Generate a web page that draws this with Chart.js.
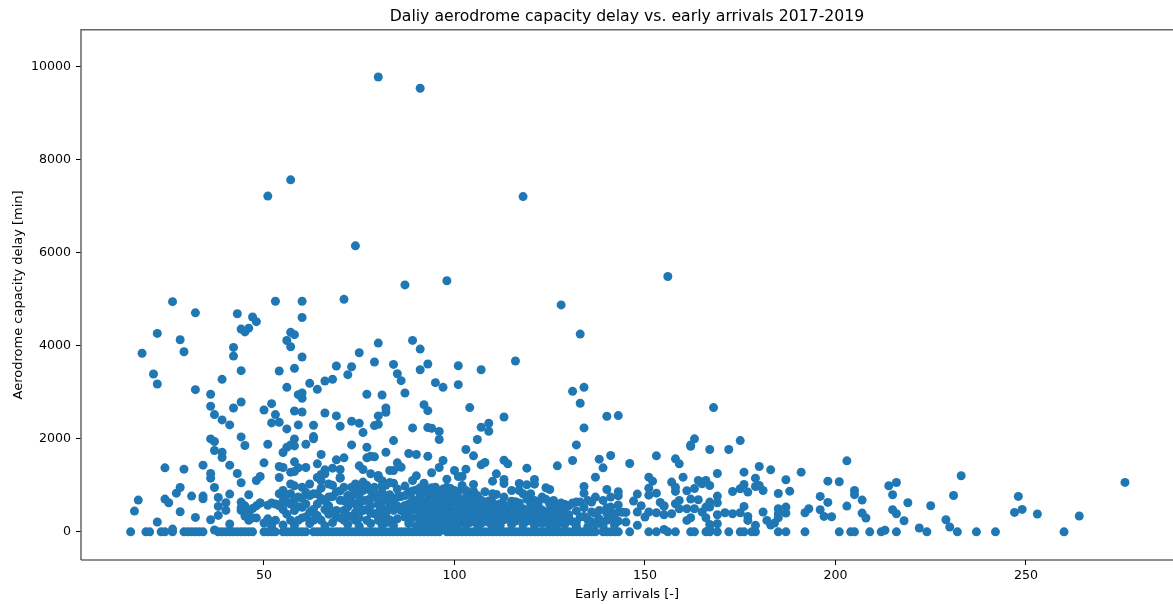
<!DOCTYPE html>
<html>
<head>
<meta charset="utf-8">
<title>Daliy aerodrome capacity delay vs. early arrivals 2017-2019</title>
<script src="https://cdn.jsdelivr.net/npm/chart.js@4"></script>
<style>
    html, body { margin: 0; padding: 0; background: #fff; overflow: hidden; }
    canvas { display: block; }
</style>
</head>
<body>
<canvas id="chart" width="1173" height="604"></canvas>
<script>
// Values: [early arrivals, capacity delay in min]
const chartTitle = 'Daliy aerodrome capacity delay vs. early arrivals 2017-2019';
const xLabel = 'Early arrivals [-]';
const yLabel = 'Aerodrome capacity delay [min]';
const xTicks = [50, 100, 150, 200, 250];
const yTicks = [0, 2000, 4000, 6000, 8000, 10000];

// days with no delay at all, only the arrivals count differs
const zeroDelayArrivals = [15, 19, 20, 23, 24, 26, 29, 30, 31, 32, 33, 34, 38, 39, 40, 41, 42, 43, 44, 45, 46, 47,
    50, 51, 52, 53, 55, 56, 57, 58, 59, 60, 61, 63, 64, 65, 66, 67, 68, 69, 70, 71, 72, 73, 74, 75, 76, 77, 78, 79,
    80, 81, 82, 83, 84, 85, 86, 87, 88, 89, 90, 91, 92, 93, 94, 95, 96, 98, 99, 100, 101, 102, 103, 104, 105, 106,
    107, 108, 109, 110, 111, 112, 113, 114, 115, 116, 117, 118, 119, 120, 121, 122, 123, 124, 125, 126, 127, 128,
    129, 130, 131, 132, 133, 134, 135, 136, 137, 139, 140, 141, 142, 143, 146, 151, 153, 156, 158, 162, 163, 166,
    167, 169, 172, 175, 176, 178, 179, 185, 187, 192, 201, 204, 205, 209, 212, 216, 224, 232, 237, 242, 260];

const pointsUnder50 = [[37, 40], [26, 60], [22, 4267], [28, 4130], [18, 3840], [29, 3873], [42, 3966], [42, 3780],
    [21, 3394], [22, 3180], [44, 3466], [39, 3280], [32, 3058], [36, 2958], [36, 2700], [44, 2793], [42, 2664],
    [37, 2521], [39, 2407], [41, 2300], [44, 2042], [36, 1999], [37, 1942], [45, 1856], [37, 1749], [39, 1713],
    [39, 1599], [41, 1434], [24, 1377], [29, 1348], [34, 1434], [36, 1255], [36, 1155], [43, 1255], [44, 1055],
    [37, 955], [28, 955], [27, 833], [31, 769], [34, 769], [34, 712], [38, 740], [41, 812], [24, 704], [25, 626],
    [17, 683], [16, 447], [28, 433], [32, 311], [22, 211], [36, 261], [44, 640], [40, 626], [40, 462], [38, 547],
    [38, 354], [44, 462], [41, 168], [46, 798], [48, 1105], [49, 1191], [26, 4950], [32, 4710], [43, 4690],
    [47, 4620], [48, 4520], [44, 4360], [45, 4300], [46, 4380], [44, 520], [45, 560], [46, 420], [47, 300],
    [45, 340], [47, 500], [48, 560], [49, 620], [48, 300], [46, 250]];

const points50to80 = [[51, 7220], [57, 7570], [74, 6150], [71, 5000], [53, 4960], [60, 4960], [60, 4610], [57, 4290],
    [58, 4240], [56, 4116], [57, 3980], [60, 3759], [69, 3566], [73, 3551], [75, 3852], [79, 3652], [80, 4059],
    [54, 3458], [58, 3516], [62, 3194], [66, 3244], [68, 3280], [72, 3380], [64, 3065], [56, 3108], [59, 2950],
    [60, 2986], [60, 2872], [77, 2958], [52, 2757], [50, 2621], [53, 2521], [58, 2600], [60, 2578], [66, 2557],
    [69, 2493], [52, 2343], [54, 2357], [56, 2214], [59, 2300], [63, 2292], [70, 2271], [73, 2378], [75, 2335],
    [76, 2135], [80, 2493], [79, 2285], [63, 2049], [63, 2000], [58, 1999], [57, 1870], [56, 1820], [55, 1706],
    [58, 1849], [61, 1885], [73, 1870], [77, 1820], [65, 1663], [77, 1592], [78, 1627], [79, 1613], [69, 1549],
    [71, 1592], [58, 1506], [64, 1463], [70, 1341], [68, 1370], [54, 1406], [55, 1384], [59, 1377], [61, 1384],
    [57, 1284], [58, 1298], [54, 1170], [75, 1420], [76, 1341], [66, 1334], [65, 1234], [70, 1155], [50, 1484],
    [51, 1885], [49, 620], [51, 570], [50, 190], [51, 280], [53, 250], [53, 600], [54, 820], [55, 890], [57, 1030],
    [58, 990], [55, 670], [57, 600], [59, 750], [60, 960], [62, 1030], [61, 850], [63, 820], [60, 530], [58, 460],
    [57, 250], [59, 250], [61, 320], [63, 250], [65, 250], [64, 600], [66, 670], [67, 750], [65, 1100], [66, 1250],
    [64, 1170], [67, 1030], [68, 1000], [70, 1170], [71, 960], [71, 670], [71, 460], [71, 250], [69, 460], [69, 320],
    [74, 1030], [74, 820], [74, 600], [74, 420], [74, 250], [76, 1070], [76, 890], [76, 670], [76, 460], [77, 250],
    [78, 1250], [79, 960], [79, 750], [80, 600], [79, 390], [80, 250], [80, 1170], [52, 620], [54, 560], [55, 480],
    [56, 640], [56, 800], [57, 820], [58, 700], [59, 540], [60, 720], [61, 600], [62, 780], [63, 480], [64, 820],
    [65, 940], [66, 480], [67, 380], [68, 760], [69, 860], [70, 680], [72, 780], [72, 540], [73, 960], [73, 640],
    [75, 540], [75, 920], [75, 760], [77, 1000], [77, 480], [78, 720], [78, 400], [62, 180], [66, 130], [68, 200],
    [72, 160], [73, 330], [75, 120], [78, 180], [55, 150], [52, 130]];

const points80to110 = [[80, 9780], [91, 9540], [98, 5400], [87, 5310], [89, 4117], [91, 3930], [84, 3601], [93, 3609],
    [91, 3487], [101, 3573], [107, 3487], [85, 3401], [86, 3251], [95, 3208], [97, 3108], [101, 3165], [81, 2943],
    [87, 2986], [92, 2736], [93, 2607], [104, 2672], [82, 2664], [82, 2571], [80, 2314], [89, 2235], [93, 2242],
    [94, 2228], [96, 2157], [96, 1985], [107, 2250], [109, 2335], [109, 2164], [106, 1985], [84, 1963], [103, 1770],
    [82, 1713], [88, 1684], [90, 1663], [93, 1627], [105, 1634], [97, 1534], [96, 1384], [94, 1270], [90, 1205],
    [107, 1441], [108, 1491], [100, 1320], [103, 1348], [101, 1191], [102, 1191], [83, 1320], [84, 1320], [85, 1484],
    [86, 1390], [80, 1213], [84, 1048], [82, 1030], [87, 984], [85, 748], [84, 675], [84, 462], [87, 568], [83, 210],
    [85, 280], [89, 1105], [92, 1048], [95, 962], [98, 1134], [98, 962], [100, 890], [102, 998], [103, 890], [105, 1020],
    [105, 876], [108, 862], [109, 662], [103, 568], [107, 512], [105, 426], [106, 426], [81, 1100], [81, 850], [81, 650],
    [81, 500], [81, 300], [81, 150], [82, 1000], [82, 700], [82, 400], [82, 200], [83, 1060], [83, 800], [83, 560],
    [83, 260], [88, 850], [88, 600], [88, 420], [88, 180], [89, 700], [89, 300], [90, 900], [90, 640], [90, 470],
    [90, 130], [91, 780], [91, 520], [91, 260], [92, 860], [92, 620], [92, 350], [92, 120], [93, 920], [93, 700],
    [93, 450], [93, 230], [94, 800], [94, 540], [94, 300], [95, 650], [95, 420], [95, 150], [96, 880], [96, 700],
    [96, 500], [96, 260], [97, 780], [97, 560], [97, 330], [97, 110], [98, 720], [98, 450], [98, 200], [99, 800],
    [99, 600], [99, 380], [99, 140], [100, 660], [100, 300], [101, 720], [101, 480], [101, 170], [102, 560], [102, 260],
    [103, 350], [103, 130], [104, 760], [104, 420], [104, 200], [105, 260], [106, 620], [106, 150], [107, 330], [107, 180],
    [108, 640], [108, 280], [109, 480], [109, 200]];

const points110to155 = [[118, 7210], [128, 4880], [133, 4252], [116, 3673], [131, 3022], [134, 3108], [133, 2765],
    [140, 2486], [143, 2500], [113, 2471], [134, 2235], [132, 1870], [113, 1541], [114, 1463], [119, 1370], [127, 1420],
    [131, 1534], [138, 1563], [141, 1642], [139, 1377], [137, 1177], [146, 1470], [153, 1634], [151, 1177], [152, 1091],
    [151, 940], [153, 833], [151, 790], [111, 1248], [110, 1091], [113, 1126], [113, 1041], [117, 1041], [117, 890],
    [121, 1126], [121, 1026], [119, 1012], [115, 890], [124, 948], [125, 912], [134, 976], [134, 833], [140, 912],
    [143, 862], [143, 776], [148, 812], [147, 662], [149, 561], [137, 748], [135, 676], [132, 640], [129, 590], [139, 676],
    [141, 748], [141, 533], [154, 633], [155, 561], [151, 426], [153, 411], [150, 318], [155, 368], [145, 418], [143, 426],
    [148, 426], [148, 140], [155, 50], [111, 805], [113, 748], [115, 660], [116, 648], [112, 604], [112, 500], [116, 426],
    [118, 498], [118, 282], [114, 282], [120, 820], [121, 676], [123, 748], [126, 676], [122, 533], [125, 462], [120, 354],
    [127, 533], [124, 318], [126, 250], [128, 318], [122, 210], [130, 368], [133, 318], [132, 210], [136, 426], [138, 462],
    [140, 250], [142, 210], [110, 820], [110, 320], [110, 120], [111, 540], [111, 240], [112, 300], [112, 140], [113, 420],
    [115, 340], [115, 160], [116, 230], [117, 620], [117, 350], [118, 820], [118, 150], [119, 700], [119, 420], [119, 230],
    [120, 580], [120, 240], [121, 400], [121, 140], [122, 620], [122, 320], [123, 470], [123, 180], [124, 700], [124, 240],
    [125, 600], [125, 300], [125, 130], [126, 450], [127, 320], [127, 150], [128, 620], [128, 240], [129, 420], [129, 170],
    [130, 560], [130, 280], [131, 620], [131, 220], [132, 450], [132, 120], [133, 640], [134, 520], [134, 330], [135, 260],
    [135, 110], [136, 640], [136, 220], [137, 400], [137, 170], [138, 280], [139, 120], [140, 520], [140, 400], [141, 350],
    [142, 380], [142, 150], [143, 580], [143, 230], [144, 420], [145, 210]];

const pointsOver155 = [[156, 5490], [168, 2672], [163, 2000], [162, 1842], [162, 1870], [167, 1770], [172, 1770],
    [175, 1963], [158, 1570], [159, 1463], [180, 1405], [183, 1334], [176, 1284], [169, 1255], [191, 1284], [203, 1527],
    [160, 1177], [179, 1155], [187, 1120], [198, 1091], [201, 1077], [157, 1070], [158, 962], [158, 870], [164, 1105],
    [166, 1105], [165, 1033], [167, 998], [163, 933], [161, 883], [176, 1019], [175, 926], [173, 869], [177, 855], [179, 976],
    [180, 998], [181, 890], [188, 876], [185, 826], [205, 890], [205, 800], [207, 683], [214, 991], [216, 1062], [215, 798],
    [231, 783], [233, 1206], [219, 626], [225, 561], [196, 762], [198, 633], [203, 554], [196, 476], [197, 333], [199, 325],
    [193, 497], [192, 411], [207, 404], [208, 297], [215, 476], [216, 390], [218, 240], [229, 261], [230, 104], [222, 83],
    [185, 497], [187, 533], [185, 390], [187, 404], [185, 304], [184, 189], [183, 147], [182, 247], [181, 426], [177, 333],
    [177, 247], [179, 140], [173, 390], [171, 411], [176, 547], [175, 411], [169, 769], [169, 626], [167, 640], [164, 690],
    [162, 705], [159, 676], [158, 604], [155, 547], [161, 497], [163, 497], [165, 426], [167, 533], [166, 533], [157, 390],
    [159, 497], [161, 247], [162, 304], [166, 304], [169, 368], [169, 175], [167, 161], [167, 68], [213, 35], [276, 1063],
    [248, 762], [247, 419], [249, 483], [253, 383], [264, 340]];

// the crowded band near the bottom, where single marks can only be estimated
const crowdedBand = [[56, 380], [58, 140], [60, 300], [62, 420], [64, 350], [65, 720], [67, 560], [68, 430], [70, 300],
    [70, 880], [72, 350], [73, 780], [75, 300], [77, 680], [78, 560], [78, 880], [80, 420], [80, 800],
    [81, 980], [84, 140], [85, 560], [85, 920], [86, 460], [86, 760], [87, 320], [87, 780],
    [89, 500], [89, 880], [91, 380], [91, 650], [91, 950], [92, 220], [92, 480],
    [93, 350], [93, 580], [94, 160], [94, 420], [94, 680], [94, 950], [95, 280], [95, 540], [95, 800],
    [96, 380], [97, 220], [97, 450], [97, 680], [97, 920], [98, 320], [98, 580], [98, 840], [99, 260],
    [99, 490], [99, 700], [99, 930], [100, 180], [100, 440], [100, 780], [101, 300], [101, 600], [101, 860],
    [102, 400], [102, 680], [103, 240], [103, 480], [103, 740], [104, 320], [104, 600], [105, 620],
    [105, 760], [106, 280], [106, 520], [106, 780], [107, 420], [107, 680], [108, 420], [109, 320], [110, 460],
    [110, 640], [111, 380], [113, 260], [113, 580], [114, 480], [115, 520], [116, 300],
    [117, 480], [118, 380], [120, 460], [121, 280], [123, 320], [126, 330], [128, 450]];

const zeroDelayPoints = zeroDelayArrivals.map(x => [x, 0]);
const allPoints = [].concat(zeroDelayPoints, pointsUnder50, points50to80, points80to110, points110to155, pointsOver155, crowdedBand);

// matplotlib style frame: left/top spines are drawn greyish in the source image
const framePlugin = {
    id: 'frame',
    afterDraw(chart) {
        const { ctx, chartArea } = chart;
        ctx.save();
        ctx.strokeStyle = '#666';
        ctx.lineWidth = 1.5;
        ctx.beginPath();
        ctx.moveTo(chartArea.left, chartArea.bottom);
        ctx.lineTo(chartArea.left, chartArea.top);
        ctx.lineTo(chartArea.right, chartArea.top);
        ctx.stroke();
        ctx.strokeStyle = '#222';
        ctx.lineWidth = 1.2;
        ctx.beginPath();
        ctx.moveTo(chartArea.left, chartArea.bottom);
        ctx.lineTo(chartArea.right, chartArea.bottom);
        ctx.stroke();
        ctx.restore();
    }
};

Chart.defaults.font.family = '"DejaVu Sans", sans-serif';
Chart.defaults.font.size = 12.6;
Chart.defaults.color = '#000';

new Chart(document.getElementById('chart').getContext('2d'), {
    type: 'scatter',
    data: {
        datasets: [{
            data: allPoints.map(p => ({ x: p[0], y: p[1] })),
            backgroundColor: '#1f77b4',
            borderWidth: 0,
            pointRadius: 4.5
        }]
    },
    options: {
        responsive: false,
        animation: false,
        layout: { padding: 0, autoPadding: false },
        plugins: {
            legend: { display: false },
            tooltip: { enabled: false },
            title: {
                display: true,
                text: chartTitle,
                fullSize: false,
                font: { size: 15.7, weight: 'normal' },
                color: '#000',
                padding: { top: 8, bottom: 3 }
            }
        },
        scales: {
            x: {
                type: 'linear',
                min: 1.97,
                max: 288.6,
                afterBuildTicks: scale => { scale.ticks = xTicks.map(v => ({ value: v })); },
                afterFit: scale => { scale.height = 44; scale.paddingLeft = 0; scale.paddingRight = 0; },
                border: { display: false },
                grid: { drawOnChartArea: false, tickColor: '#000', tickLength: 5 },
                ticks: { maxRotation: 0, padding: 3, callback: v => String(v) },
                title: { display: true, text: xLabel, font: { size: 13 }, padding: { top: 2, bottom: 2 } }
            },
            y: {
                type: 'linear',
                min: -605,
                max: 10795,
                afterBuildTicks: scale => { scale.ticks = yTicks.map(v => ({ value: v })); },
                afterFit: scale => { scale.width = 81; scale.paddingTop = 0; scale.paddingBottom = 0; },
                border: { display: false },
                grid: { drawOnChartArea: false, tickColor: '#000', tickLength: 5 },
                ticks: { padding: 5, callback: v => String(v) },
                title: { display: true, text: yLabel, font: { size: 13 }, padding: { top: 11, bottom: 4 } }
            }
        }
    },
    plugins: [framePlugin]
});
</script>
</body>
</html>
